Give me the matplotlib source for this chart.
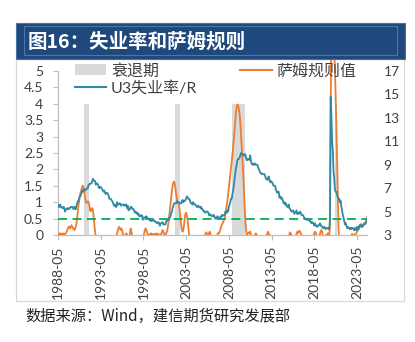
import matplotlib
matplotlib.use('Agg')
import matplotlib.pyplot as plt
import pandas as pd
import numpy as np
from matplotlib.patches import Rectangle, Patch
from matplotlib.lines import Line2D
from matplotlib.transforms import Bbox, TransformedBbox

plt.rcParams['font.family'] = ['Lato', 'Noto Sans CJK SC', 'DejaVu Sans']

# ---------------- data ----------------
start_month = '1988-05'

# U3 unemployment rate (%), monthly, right axis
u3 = [
    5.6, 5.4, 5.4, 5.6, 5.4, 5.4, 5.3, 5.3,                          # 1988 May-Dec
    5.4, 5.2, 5.0, 5.2, 5.2, 5.3, 5.2, 5.2, 5.3, 5.3, 5.4, 5.4,      # 1989
    5.4, 5.3, 5.2, 5.4, 5.4, 5.2, 5.5, 5.7, 5.9, 5.9, 6.2, 6.3,      # 1990
    6.4, 6.6, 6.8, 6.7, 6.9, 6.9, 6.8, 6.9, 6.9, 7.0, 7.0, 7.3,      # 1991
    7.3, 7.4, 7.4, 7.4, 7.6, 7.8, 7.7, 7.6, 7.6, 7.3, 7.4, 7.4,      # 1992
    7.3, 7.1, 7.0, 7.1, 7.1, 7.0, 6.9, 6.8, 6.7, 6.8, 6.6, 6.5,      # 1993
    6.6, 6.6, 6.5, 6.4, 6.1, 6.1, 6.1, 6.0, 5.9, 5.8, 5.6, 5.5,      # 1994
    5.6, 5.4, 5.4, 5.8, 5.6, 5.6, 5.7, 5.7, 5.6, 5.5, 5.6, 5.6,      # 1995
    5.6, 5.5, 5.5, 5.6, 5.6, 5.3, 5.5, 5.1, 5.2, 5.2, 5.4, 5.4,      # 1996
    5.3, 5.2, 5.2, 5.1, 4.9, 5.0, 4.9, 4.8, 4.9, 4.7, 4.6, 4.7,      # 1997
    4.6, 4.6, 4.7, 4.3, 4.4, 4.5, 4.5, 4.5, 4.6, 4.5, 4.4, 4.4,      # 1998
    4.3, 4.4, 4.2, 4.3, 4.2, 4.3, 4.3, 4.2, 4.2, 4.1, 4.1, 4.0,      # 1999
    4.0, 4.1, 4.0, 3.8, 4.0, 4.0, 4.0, 4.1, 3.9, 3.9, 3.9, 3.9,      # 2000
    4.2, 4.2, 4.3, 4.4, 4.3, 4.5, 4.6, 4.9, 5.0, 5.3, 5.5, 5.7,      # 2001
    5.7, 5.7, 5.7, 5.9, 5.8, 5.8, 5.8, 5.7, 5.7, 5.7, 5.9, 6.0,      # 2002
    5.8, 5.9, 5.9, 6.0, 6.1, 6.3, 6.2, 6.1, 6.1, 6.0, 5.8, 5.7,      # 2003
    5.7, 5.6, 5.8, 5.6, 5.6, 5.6, 5.5, 5.4, 5.4, 5.5, 5.4, 5.4,      # 2004
    5.3, 5.4, 5.2, 5.2, 5.1, 5.0, 5.0, 4.9, 5.0, 5.0, 5.0, 4.9,      # 2005
    4.7, 4.8, 4.7, 4.7, 4.6, 4.6, 4.7, 4.7, 4.5, 4.4, 4.5, 4.4,      # 2006
    4.6, 4.5, 4.4, 4.5, 4.4, 4.6, 4.7, 4.6, 4.7, 4.7, 4.7, 5.0,      # 2007
    5.0, 4.9, 5.1, 5.0, 5.4, 5.6, 5.8, 6.1, 6.1, 6.5, 6.8, 7.3,      # 2008
    7.8, 8.3, 8.7, 9.0, 9.4, 9.5, 9.5, 9.6, 9.8, 10.0, 9.9, 9.9,     # 2009
    9.8, 9.8, 9.9, 9.9, 9.6, 9.4, 9.4, 9.5, 9.5, 9.4, 9.8, 9.3,      # 2010
    9.1, 9.0, 9.0, 9.1, 9.0, 9.1, 9.0, 9.0, 9.0, 8.8, 8.6, 8.5,      # 2011
    8.3, 8.3, 8.2, 8.2, 8.2, 8.2, 8.2, 8.0, 7.8, 7.8, 7.7, 7.9,      # 2012
    8.0, 7.7, 7.5, 7.6, 7.5, 7.5, 7.3, 7.2, 7.2, 7.2, 6.9, 6.7,      # 2013
    6.6, 6.7, 6.7, 6.2, 6.3, 6.1, 6.2, 6.1, 5.9, 5.7, 5.8, 5.6,      # 2014
    5.7, 5.5, 5.4, 5.4, 5.6, 5.3, 5.2, 5.1, 5.0, 5.0, 5.1, 5.0,      # 2015
    4.8, 4.9, 5.0, 5.1, 4.8, 4.9, 4.8, 4.9, 5.0, 4.9, 4.7, 4.7,      # 2016
    4.7, 4.6, 4.4, 4.4, 4.4, 4.3, 4.3, 4.4, 4.3, 4.2, 4.2, 4.1,      # 2017
    4.0, 4.1, 4.0, 4.0, 3.8, 4.0, 3.8, 3.8, 3.7, 3.8, 3.8, 3.9,      # 2018
    4.0, 3.8, 3.8, 3.7, 3.6, 3.6, 3.7, 3.6, 3.5, 3.6, 3.6, 3.6,      # 2019
    3.5, 3.5, 4.4, 14.8, 13.2, 11.0, 10.2, 8.4, 7.8, 6.8, 6.7, 6.7,  # 2020
    6.4, 6.2, 6.1, 6.1, 5.8, 5.9, 5.4, 5.1, 4.7, 4.5, 4.2, 3.9,      # 2021
    4.0, 3.8, 3.6, 3.7, 3.6, 3.6, 3.5, 3.6, 3.5, 3.6, 3.6, 3.5,      # 2022
    3.4, 3.6, 3.5, 3.4, 3.7, 3.6, 3.5, 3.8, 3.8, 3.9, 3.7, 3.7,      # 2023
    3.7, 3.9, 3.9, 3.9, 4.0, 4.1, 4.3,                               # 2024 Jan-Jul
]

# Sahm rule value, monthly, left axis
sahm = [
    0.03, 0.0, 0.03, 0.05, 0.03, 0.0, 0.03, 0.05,                                   # 1988
    0.03, 0.0, 0.03, 0.05, 0.1, 0.15, 0.2, 0.25, 0.25, 0.2, 0.25, 0.3,              # 1989
    0.25, 0.2, 0.2, 0.15, 0.2, 0.25, 0.35, 0.55, 0.75, 0.95, 1.1, 1.25,             # 1990
    1.3, 1.4, 1.47, 1.5, 1.45, 1.3, 1.15, 1.0, 0.97, 1.0, 1.03, 1.0,                # 1991
    0.9, 0.75, 0.72, 0.8, 0.82, 0.78, 0.55, 0.3, 0.1, -0.05, -0.15, -0.2,           # 1992
    -0.2, -0.3, -0.4, -0.4, -0.4, -0.37, -0.3, -0.3, -0.3, -0.27, -0.37, -0.43,     # 1993
    -0.5, -0.57, -0.63, -0.5, -0.57, -0.57, -0.47, -0.5, -0.47, -0.47, -0.43, -0.43,# 1994
    -0.3, -0.17, -0.1, 0.05, 0.15, 0.2, 0.25, 0.2, 0.15, 0.2, 0.15, 0.05,           # 1995
    0.0, -0.05, -0.1, 0.0, 0.05, 0.0, -0.05, -0.1, -0.05, 0.05, 0.2, 0.1,           # 1996
    0.0, -0.1, -0.2, -0.25, -0.3, -0.3, -0.35, -0.3, -0.25, -0.3, -0.3, -0.25,      # 1997
    -0.2, -0.15, -0.1, -0.1, -0.05, 0.05, 0.15, 0.2, 0.15, 0.1, 0.0, -0.05,         # 1998
    0.0, 0.03, 0.03, 0.05, 0.03, 0.02, 0.03, 0.03, 0.0, 0.03, 0.05, 0.03,           # 1999
    0.03, 0.03, 0.0, -0.03, 0.0, 0.03, 0.1, 0.15, 0.1, 0.03, 0.0, 0.03,             # 2000
    0.05, 0.1, 0.2, 0.35, 0.55, 0.75, 0.95, 1.15, 1.35, 1.5, 1.6, 1.63,             # 2001
    1.55, 1.4, 1.25, 1.1, 1.0, 0.98, 0.9, 0.75, 0.5, 0.3, 0.15, 0.1,                # 2002
    0.15, 0.3, 0.5, 0.65, 0.68, 0.6, 0.45, 0.25, 0.05, -0.1, -0.25, -0.3,           # 2003
    -0.3, -0.35, -0.3, -0.4, -0.4, -0.4, -0.35, -0.35, -0.3, -0.25, -0.2, -0.2,     # 2004
    -0.25, -0.2, -0.3, -0.3, -0.3, -0.2, -0.1, 0.03, 0.08, 0.05, 0.03, 0.0,         # 2005
    0.05, 0.1, 0.03, -0.1, -0.13, -0.17, -0.1, -0.07, -0.1, -0.17, -0.13, -0.13,    # 2006
    0.03, 0.05, 0.05, 0.1, 0.15, 0.25, 0.3, 0.35, 0.4, 0.45, 0.5, 0.6,              # 2007
    0.75, 0.9, 1.05, 1.25, 1.45, 1.65, 1.85, 2.05, 2.25, 2.45, 2.7, 2.95,           # 2008
    3.2, 3.5, 3.75, 3.9, 3.98, 3.95, 3.85, 3.7, 3.45, 3.1, 2.7, 2.3,                # 2009
    1.9, 1.4, 0.9, 0.5, 0.2, 0.0, 0.03, 0.05, 0.08, 0.05, 0.1, 0.0,                 # 2010
    -0.2, -0.4, -0.5, -0.4, -0.2, 0.03, 0.05, 0.0, -0.05, -0.1, -0.3, -0.4,         # 2011
    -0.6, -0.7, -0.6, -0.5, -0.4, -0.3, -0.2, -0.1, -0.1, 0.0, 0.05, 0.1,           # 2012
    0.05, 0.0, -0.1, -0.2, -0.3, -0.3, -0.3, -0.3, -0.3, -0.3, -0.4, -0.5,          # 2013
    -0.6, -0.6, -0.6, -0.6, -0.5, -0.5, -0.4, -0.4, -0.3, -0.4, -0.3, -0.3,         # 2014
    -0.3, -0.3, -0.3, -0.2, -0.1, 0.03, 0.08, 0.05, -0.1, -0.2, -0.2, -0.2,         # 2015
    -0.2, -0.1, -0.1, 0.05, 0.1, 0.05, 0.1, 0.13, 0.1, 0.05, 0.0, -0.1,             # 2016
    -0.2, -0.2, -0.3, -0.3, -0.3, -0.3, -0.2, -0.2, -0.2, -0.2, -0.2, -0.2,         # 2017
    -0.3, -0.2, -0.1, 0.0, 0.05, 0.1, 0.07, 0.0, -0.1, -0.1, -0.1, -0.1,            # 2018
    0.05, 0.12, 0.15, 0.1, 0.0, -0.1, -0.1, -0.1, -0.1, 0.0, 0.03, 0.05,            # 2019
    0.03, 0.0, 0.27, 4.1, 7.3, 9.5, 8.0, 6.5, 5.6, 5.0, 4.2, 3.3,                   # 2020
    2.3, 1.2, 0.2, -0.2, -0.5, -0.7, -0.8, -1.0, -1.2, -1.4, -1.6, -1.8,            # 2021
    -1.5, -1.2, -0.9, -0.6, -0.4, -0.3, -0.2, -0.1, 0.0, 0.03, 0.0, 0.0,            # 2022
    0.0, 0.02, 0.03, 0.05, 0.1, 0.13, 0.17, 0.2, 0.25, 0.3, 0.33, 0.3,              # 2023
    0.3, 0.33, 0.35, 0.37, 0.4, 0.45, 0.55,                                         # 2024
]

recession_start = ['1991-05', '2002-01', '2008-10', '2020-10']
recession_end = ['1992-01', '2002-09', '2010-04', '2021-01']
recession_height = 4.0
sahm_threshold = 0.5

xtick_labels = ['1988-05', '1993-05', '1998-05', '2003-05',
                '2008-05', '2013-05', '2018-05', '2023-05']
left_ticks = [0, 0.5, 1, 1.5, 2, 2.5, 3, 3.5, 4, 4.5, 5]
left_labels = ['0', '0.5', '1', '1.5', '2', '2.5', '3', '3.5', '4', '4.5', '5']
right_ticks = [3, 5, 7, 9, 11, 13, 15, 17]

title_text = '图16：失业率和萨姆规则'
source_text = '数据来源：Wind，建信期货研究发展部'
legend_labels = ['衰退期', 'U3失业率/R', '萨姆规则值']

# ---------------- style ----------------
C_ORANGE = '#ED7D31'
C_TEAL = '#3189A3'
C_GREEN = '#00B050'
C_GRAY = '#D9D9D9'
C_AXIS = '#BFBFBF'
C_TXT = '#404040'

W, H = 415, 342
fig = plt.figure(figsize=(W / 100, H / 100), dpi=100)


def fx(x):
    return x / W


def fy(y):
    return 1 - y / H


# title bar and frame
fig.patches.append(Rectangle((fx(16), fy(301)), fx(404) - fx(16), fy(59) - fy(301),
                             transform=fig.transFigure, fill=False,
                             edgecolor='#D9D9D9', lw=0.9))
fig.patches.append(Rectangle((fx(16), fy(59)), fx(405) - fx(16), fy(23) - fy(59),
                             transform=fig.transFigure, facecolor='#1F497D',
                             edgecolor='#4A6FA5', lw=0.8))
fig.patches.append(Rectangle((fx(24), fy(55)), fx(397) - fx(24), fy(26.5) - fy(55),
                             transform=fig.transFigure, fill=False,
                             edgecolor='#4F74AA', lw=0.8))
fig.text(fx(28), fy(41.5), title_text, color='white', fontsize=14, fontweight='bold',
         family=['Noto Sans CJK SC'], va='center', ha='left')
fig.text(fx(25), fy(316), source_text, color='#222222', fontsize=11,
         family=['Noto Sans CJK SC'], va='center', ha='left', style='italic')

# axes
ax = fig.add_axes([fx(58), fy(235), (309) / W, (235 - 71) / H])
ax2 = ax.twinx()

dates = pd.date_range(start_month, periods=len(u3), freq='MS')
rs = pd.to_datetime(recession_start)
re_ = pd.to_datetime(recession_end)

ax.bar(rs, [recession_height] * len(rs), width=(re_ - rs).days, align='edge',
       color=C_GRAY, linewidth=0, zorder=1)
sahm_line, = ax.plot(dates, sahm, color=C_ORANGE, lw=1.3, zorder=3)
# the orange line runs slightly above the plot top, up to the title bar
sahm_line.set_clip_box(TransformedBbox(Bbox([[0, 0], [1, 1.07]]), ax.transAxes))
ax.axhline(sahm_threshold, color=C_GREEN, lw=1.3, ls=(0, (5, 3)), zorder=4)
ax2.plot(dates, u3, color=C_TEAL, lw=1.3, zorder=3)

ax.set_xlim(dates[0], dates[-1])
ax.set_ylim(0, 5)
ax2.set_ylim(3, 17)

ax.set_yticks(left_ticks)
ax.set_yticklabels(left_labels)
ax2.set_yticks(right_ticks)

xt = pd.to_datetime(xtick_labels)
ax.set_xticks(xt)
ax.set_xticklabels(xtick_labels, rotation=90)

for a in (ax, ax2):
    for s in a.spines.values():
        s.set_visible(False)
ax.spines['left'].set_visible(True)
ax.spines['bottom'].set_visible(True)
ax.spines['left'].set_color(C_AXIS)
ax.spines['bottom'].set_color(C_AXIS)
ax.spines['left'].set_linewidth(0.9)
ax.spines['bottom'].set_linewidth(0.9)

ax.tick_params(axis='y', direction='out', length=3.5, width=0.8, color=C_AXIS,
               labelsize=10, labelcolor=C_TXT, pad=7)
ax.tick_params(axis='x', direction='out', length=3.8, width=0.8, color=C_AXIS,
               labelsize=10, labelcolor=C_TXT, pad=3.5)
ax2.tick_params(axis='y', length=0, labelsize=10, labelcolor=C_TXT, pad=12)

handles = [Patch(facecolor=C_GRAY, edgecolor='none'),
           Line2D([], [], color=C_TEAL, lw=1.5),
           Line2D([], [], color=C_ORANGE, lw=1.5)]
fig.legend(handles, legend_labels, loc='upper left',
           bbox_to_anchor=(fx(75), fy(63.5)), ncol=2, frameon=False,
           fontsize=11.5, borderpad=0, borderaxespad=0, handlelength=1.95,
           handletextpad=0.3, columnspacing=2.7, labelspacing=0.15,
           labelcolor=C_TXT)

fig.savefig('out.png', dpi=100)
